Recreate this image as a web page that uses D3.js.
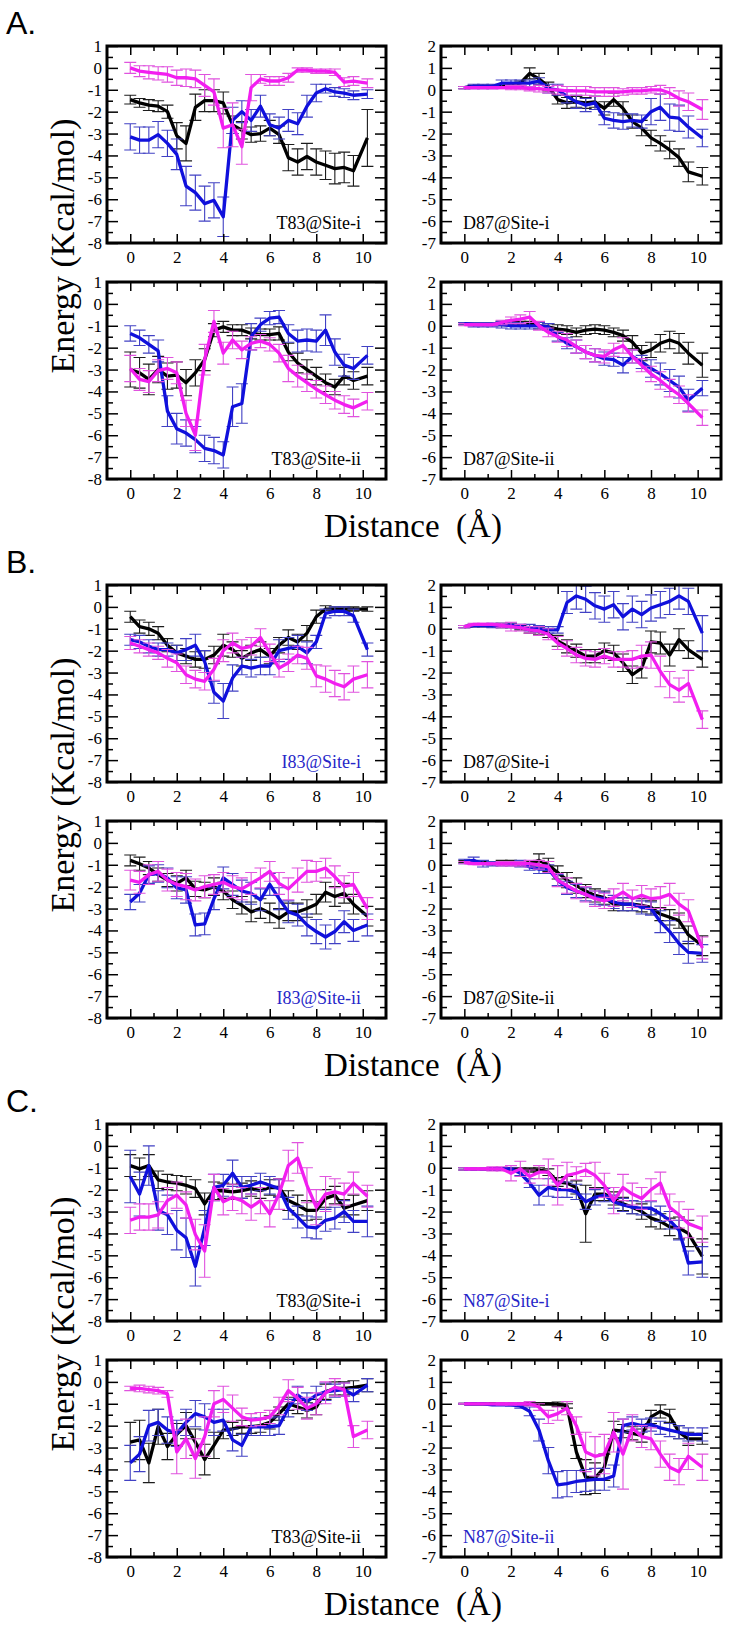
<!DOCTYPE html>
<html>
<head>
<meta charset="utf-8">
<script src="https://cdn.jsdelivr.net/npm/d3@7"></script>
<style>
body { margin: 0; background: #fff; }
svg { display: block; }
</style>
</head>
<body>
<svg id="fig" width="733" height="1626"></svg>
<script>
// distance (A) sampled along the pulling coordinate
const distance = [0, 0.4, 0.8, 1.2, 1.6, 2.0, 2.4, 2.8, 3.2, 3.6, 4.0, 4.4, 4.8, 5.2, 5.6, 6.0, 6.4, 6.8, 7.2, 7.6, 8.0, 8.4, 8.8, 9.2, 9.6, 10.2]
const xTicks = [0, 2, 4, 6, 8, 10]
const xMinor = [1, 3, 5, 7, 9]
const yTicksLeft = [-8, -7, -6, -5, -4, -3, -2, -1, 0, 1]
const yTicksRight = [-7, -6, -5, -4, -3, -2, -1, 0, 1, 2]

// A. T83@Site-i
const A_T83i_black = [-1.45,-1.6,-1.7,-1.75,-2.0,-3.1,-3.45,-1.8,-1.5,-1.5,-1.6,-2.6,-2.85,-3.05,-3.0,-2.75,-3.05,-4.1,-4.3,-4.05,-4.3,-4.45,-4.6,-4.55,-4.7,-3.2]
const A_T83i_blue = [-3.15,-3.3,-3.3,-3.05,-3.45,-3.95,-5.4,-5.7,-6.2,-6.05,-6.8,-2.4,-2.0,-2.4,-1.75,-2.6,-2.75,-2.4,-2.55,-1.75,-1.15,-0.95,-1.1,-1.15,-1.25,-1.2]
const A_T83i_mag = [0.0,-0.15,-0.2,-0.25,-0.3,-0.45,-0.45,-0.5,-0.8,-1.1,-2.75,-2.6,-3.6,-0.9,-0.5,-0.6,-0.6,-0.45,-0.1,-0.1,-0.15,-0.15,-0.2,-0.65,-0.6,-0.7]
const A_T83i_black_err = [0.2,0.2,0.25,0.25,0.3,0.6,0.8,0.6,0.5,0.5,0.5,0.4,0.4,0.35,0.35,0.35,0.4,0.6,0.6,0.6,0.6,0.65,0.7,0.7,0.7,1.3]
const A_T83i_blue_err = [0.6,0.6,0.6,0.6,0.6,0.7,0.9,0.8,0.8,0.8,0.9,0.6,0.5,0.5,0.5,0.5,0.5,0.5,0.5,0.5,0.4,0.2,0.2,0.2,0.2,0.2]
const A_T83i_mag_err = [0.25,0.25,0.3,0.3,0.35,0.35,0.4,0.4,0.5,0.6,0.9,1.0,0.8,0.6,0.2,0.2,0.2,0.2,0.1,0.1,0.1,0.1,0.15,0.2,0.2,0.2]

// A. T83@Site-ii
const A_T83ii_black = [-3.0,-3.15,-3.45,-3.0,-3.3,-3.25,-3.6,-3.15,-2.55,-1.2,-1.05,-1.2,-1.2,-1.35,-1.4,-1.4,-1.35,-2.2,-2.7,-3.0,-3.3,-3.6,-3.8,-3.3,-3.5,-3.3]
const A_T83ii_blue = [-1.35,-1.55,-1.85,-2.15,-4.9,-5.7,-5.9,-6.2,-6.6,-6.7,-6.9,-4.7,-4.55,-1.5,-0.95,-0.65,-0.6,-1.35,-1.7,-1.65,-1.7,-1.2,-2.2,-2.8,-2.95,-2.35]
const A_T83ii_mag = [-2.95,-3.45,-3.55,-3.05,-2.95,-3.15,-5.0,-6.0,-2.55,-0.8,-2.25,-1.65,-2.1,-1.8,-1.7,-1.85,-2.25,-2.95,-3.3,-3.6,-3.9,-4.15,-4.4,-4.6,-4.75,-4.45]
const A_T83ii_black_err = [0.8,0.7,0.7,0.6,0.6,0.6,0.6,0.6,0.5,0.3,0.25,0.25,0.25,0.25,0.25,0.25,0.3,0.4,0.45,0.45,0.4,0.4,0.35,0.4,0.4,0.4]
const A_T83ii_blue_err = [0.35,0.35,0.4,0.5,0.7,0.7,0.6,0.6,0.6,0.6,0.6,0.9,0.9,0.6,0.3,0.3,0.3,0.4,0.5,0.5,0.5,0.7,0.6,0.5,0.5,0.4]
const A_T83ii_mag_err = [0.6,0.5,0.5,0.5,0.5,0.5,0.6,0.7,0.7,0.5,0.5,0.4,0.4,0.3,0.3,0.3,0.4,0.6,0.5,0.4,0.4,0.4,0.4,0.4,0.4,0.4]

// A. D87@Site-i
const A_D87i_black = [0.1,0.15,0.15,0.15,0.15,0.2,0.3,0.75,0.5,0.15,-0.45,-0.6,-0.55,-0.6,-0.55,-0.85,-0.45,-0.85,-1.45,-1.75,-2.2,-2.45,-2.75,-3.1,-3.75,-3.95]
const A_D87i_blue = [0.1,0.15,0.15,0.15,0.3,0.3,0.3,0.3,0.4,0.05,0.0,-0.3,-0.55,-0.7,-0.6,-1.3,-1.4,-1.45,-1.4,-1.45,-1.0,-0.8,-1.25,-1.3,-1.7,-2.2]
const A_D87i_mag = [0.1,0.1,0.1,0.1,0.1,0.1,0.1,0.05,0.05,0.0,0.0,-0.05,-0.05,-0.05,-0.1,-0.1,-0.1,-0.1,-0.05,-0.05,0.0,0.0,-0.15,-0.4,-0.55,-0.9]
const A_D87i_black_err = [0.05,0.05,0.05,0.05,0.05,0.1,0.1,0.25,0.25,0.2,0.2,0.25,0.25,0.25,0.25,0.3,0.3,0.3,0.3,0.35,0.35,0.35,0.4,0.4,0.45,0.4]
const A_D87i_blue_err = [0.05,0.1,0.1,0.1,0.15,0.15,0.15,0.15,0.15,0.2,0.25,0.3,0.3,0.3,0.3,0.3,0.35,0.35,0.3,0.3,0.6,0.6,0.6,0.6,0.5,0.4]
const A_D87i_mag_err = [0.05,0.05,0.05,0.05,0.05,0.1,0.1,0.1,0.15,0.15,0.2,0.2,0.2,0.2,0.2,0.2,0.2,0.15,0.15,0.15,0.15,0.2,0.25,0.35,0.4,0.45]

// A. D87@Site-ii
const A_D87ii_black = [0.1,0.1,0.1,0.1,0.1,0.15,0.1,0.1,0.0,-0.05,-0.15,-0.2,-0.3,-0.2,-0.15,-0.2,-0.3,-0.45,-0.75,-1.25,-1.1,-0.8,-0.65,-0.8,-1.25,-1.8]
const A_D87ii_blue = [0.1,0.05,0.05,0.05,0.05,0.0,0.0,0.0,0.0,-0.05,-0.5,-0.8,-0.95,-1.2,-1.35,-1.5,-1.55,-1.8,-1.4,-1.65,-1.95,-2.2,-2.5,-2.8,-3.4,-2.85]
const A_D87ii_mag = [0.05,0.05,0.05,0.05,0.15,0.25,0.3,0.4,0.0,-0.3,-0.5,-0.65,-0.95,-1.2,-1.35,-1.4,-1.1,-0.9,-1.4,-1.8,-2.2,-2.5,-2.85,-3.15,-3.55,-4.2]
const A_D87ii_black_err = [0.05,0.05,0.05,0.05,0.1,0.1,0.1,0.1,0.15,0.15,0.2,0.2,0.2,0.2,0.2,0.2,0.2,0.25,0.3,0.35,0.35,0.4,0.4,0.45,0.5,0.55]
const A_D87ii_blue_err = [0.05,0.1,0.1,0.1,0.15,0.15,0.15,0.15,0.15,0.15,0.2,0.25,0.3,0.3,0.3,0.3,0.3,0.35,0.3,0.3,0.4,0.5,0.5,0.5,0.5,0.35]
const A_D87ii_mag_err = [0.05,0.05,0.05,0.05,0.1,0.15,0.2,0.25,0.2,0.2,0.25,0.3,0.3,0.3,0.3,0.3,0.3,0.35,0.3,0.3,0.35,0.4,0.4,0.4,0.4,0.35]

// B. I83@Site-i
const B_I83i_black = [-0.45,-0.9,-1.0,-1.2,-1.75,-2.1,-2.25,-2.4,-2.4,-2.2,-1.75,-1.95,-2.35,-2.1,-1.95,-2.25,-1.75,-1.4,-1.6,-1.2,-0.45,-0.1,-0.1,-0.1,-0.1,-0.1]
const B_I83i_blue = [-1.5,-1.6,-1.8,-1.95,-1.95,-2.1,-1.95,-1.75,-2.5,-3.9,-4.3,-3.25,-2.7,-2.8,-2.7,-2.7,-2.0,-1.9,-1.8,-2.1,-1.6,-0.3,-0.2,-0.2,-0.4,-1.95]
const B_I83i_mag = [-1.65,-1.8,-1.95,-2.1,-2.35,-2.55,-3.1,-3.3,-3.4,-2.85,-2.0,-1.65,-1.9,-1.8,-1.4,-2.1,-2.8,-2.55,-2.2,-2.35,-3.15,-3.3,-3.5,-3.65,-3.3,-3.1]
const B_I83i_black_err = [0.25,0.3,0.3,0.3,0.3,0.35,0.35,0.35,0.4,0.4,0.5,0.35,0.35,0.35,0.35,0.35,0.35,0.35,0.35,0.35,0.3,0.15,0.1,0.1,0.1,0.1]
const B_I83i_blue_err = [0.25,0.3,0.3,0.3,0.3,0.35,0.5,0.5,0.5,0.5,0.8,0.6,0.4,0.4,0.4,0.4,0.5,0.5,0.5,0.5,0.3,0.2,0.2,0.2,0.3,0.3]
const B_I83i_mag_err = [0.3,0.3,0.3,0.3,0.4,0.4,0.4,0.4,0.4,0.5,0.5,0.45,0.4,0.4,0.4,0.4,0.4,0.4,0.4,0.5,0.5,0.6,0.6,0.6,0.6,0.6]

// B. I83@Site-ii
const B_I83ii_black = [-0.8,-0.95,-1.15,-1.45,-1.7,-1.85,-1.6,-2.1,-2.15,-2.0,-2.2,-2.6,-2.85,-3.15,-3.0,-3.2,-3.45,-3.15,-3.15,-3.0,-2.8,-2.25,-2.45,-2.3,-2.8,-3.35]
const B_I83ii_blue = [-2.7,-2.3,-1.45,-1.4,-1.6,-2.05,-2.15,-3.75,-3.7,-2.55,-1.6,-1.9,-2.2,-2.3,-2.6,-1.9,-2.55,-3.15,-3.3,-3.75,-4.05,-4.3,-4.05,-3.6,-4.0,-3.75]
const B_I83ii_mag = [-1.7,-1.8,-1.45,-1.3,-1.7,-1.9,-2.0,-2.15,-2.0,-1.9,-1.8,-2.0,-2.1,-1.85,-1.6,-1.3,-1.85,-2.1,-1.7,-1.3,-1.3,-1.15,-1.55,-2.0,-1.9,-3.0]
const B_I83ii_black_err = [0.25,0.3,0.3,0.3,0.3,0.35,0.35,0.35,0.35,0.4,0.4,0.4,0.4,0.45,0.45,0.45,0.45,0.4,0.4,0.4,0.45,0.45,0.45,0.45,0.45,0.45]
const B_I83ii_blue_err = [0.35,0.4,0.4,0.4,0.45,0.5,0.6,0.5,0.5,0.5,0.5,0.5,0.5,0.5,0.5,0.5,0.5,0.5,0.5,0.5,0.55,0.55,0.55,0.5,0.5,0.5]
const B_I83ii_mag_err = [0.45,0.5,0.45,0.45,0.5,0.55,0.6,0.5,0.5,0.45,0.45,0.5,0.5,0.5,0.45,0.45,0.5,0.5,0.55,0.5,0.45,0.45,0.5,0.5,0.55,0.5]

// B. D87@Site-i
const B_D87i_black = [0.1,0.15,0.15,0.15,0.15,0.15,0.05,-0.05,-0.1,-0.2,-0.55,-0.8,-1.0,-1.25,-1.25,-1.0,-1.1,-1.55,-2.1,-1.8,-0.6,-0.65,-1.2,-0.5,-0.95,-1.4]
const B_D87i_blue = [0.1,0.15,0.15,0.15,0.15,0.15,0.1,0.05,0.0,-0.05,-0.05,1.2,1.5,1.35,1.05,0.9,1.1,0.55,0.9,0.65,0.95,1.1,1.25,1.5,1.25,-0.2]
const B_D87i_mag = [0.1,0.2,0.2,0.2,0.15,0.1,0.05,-0.05,-0.1,-0.25,-0.65,-0.9,-1.2,-1.35,-1.4,-1.25,-1.4,-1.4,-1.4,-1.25,-1.2,-1.95,-2.55,-2.8,-2.5,-4.15]
const B_D87i_black_err = [0.05,0.05,0.05,0.05,0.1,0.1,0.1,0.15,0.15,0.2,0.25,0.3,0.3,0.3,0.3,0.35,0.35,0.4,0.4,0.45,0.5,0.5,0.5,0.5,0.4,0.35]
const B_D87i_blue_err = [0.05,0.05,0.05,0.1,0.1,0.1,0.1,0.15,0.15,0.15,0.15,0.5,0.6,0.6,0.6,0.6,0.6,0.6,0.6,0.6,0.6,0.6,0.6,0.6,0.6,0.8]
const B_D87i_mag_err = [0.05,0.05,0.05,0.05,0.1,0.2,0.15,0.15,0.2,0.25,0.3,0.35,0.35,0.35,0.35,0.35,0.35,0.35,0.4,0.5,0.6,0.7,0.6,0.55,0.6,0.4]

// B. D87@Site-ii
const B_D87ii_black = [0.15,0.1,0.1,0.1,0.1,0.1,0.05,0.05,0.2,0.0,-0.35,-0.7,-0.95,-1.2,-1.4,-1.5,-1.8,-1.8,-1.8,-1.85,-1.95,-2.25,-2.4,-2.55,-3.2,-3.7]
const B_D87ii_blue = [0.15,0.2,0.05,0.05,0.05,0.05,0.05,-0.1,-0.2,-0.2,-0.7,-1.05,-1.2,-1.35,-1.5,-1.55,-1.7,-1.8,-1.8,-1.95,-2.0,-2.6,-3.05,-3.6,-4.0,-4.05]
const B_D87ii_mag = [0.1,0.05,0.05,0.05,0.05,0.05,0.05,0.05,0.0,-0.1,-0.7,-0.95,-1.2,-1.35,-1.55,-1.65,-1.5,-1.25,-1.55,-1.4,-1.55,-1.5,-1.35,-1.8,-2.1,-3.8]
const B_D87ii_black_err = [0.05,0.05,0.05,0.05,0.1,0.1,0.1,0.1,0.3,0.3,0.3,0.35,0.35,0.3,0.3,0.3,0.3,0.3,0.3,0.3,0.3,0.3,0.35,0.35,0.4,0.45]
const B_D87ii_blue_err = [0.1,0.15,0.15,0.1,0.1,0.1,0.15,0.15,0.2,0.2,0.25,0.3,0.3,0.3,0.3,0.3,0.3,0.3,0.3,0.3,0.3,0.5,0.5,0.5,0.5,0.4]
const B_D87ii_mag_err = [0.05,0.05,0.05,0.05,0.1,0.1,0.1,0.15,0.2,0.25,0.3,0.35,0.35,0.35,0.35,0.35,0.4,0.4,0.4,0.45,0.45,0.5,0.5,0.5,0.5,0.5]

// C. T83@Site-i
const C_T83i_black = [-0.9,-1.05,-0.9,-1.55,-1.65,-1.7,-1.8,-1.95,-2.65,-2.05,-2.05,-2.1,-2.05,-1.95,-2.05,-1.9,-1.9,-2.5,-2.7,-2.95,-2.95,-2.4,-2.25,-2.85,-2.7,-2.5]
const C_T83i_blue = [-1.4,-2.2,-0.9,-2.95,-3.15,-3.85,-4.2,-5.5,-3.75,-1.9,-1.8,-1.25,-1.9,-1.8,-1.65,-1.8,-1.95,-2.85,-3.25,-3.7,-3.75,-3.4,-3.3,-3.0,-3.45,-3.45]
const C_T83i_mag = [-3.4,-3.25,-3.25,-3.15,-2.5,-2.25,-2.7,-4.05,-4.8,-1.9,-2.55,-2.35,-2.5,-2.8,-2.5,-3.1,-2.2,-0.9,-0.55,-1.8,-2.8,-2.2,-2.1,-2.2,-1.7,-2.3]
const C_T83i_black_err = [0.5,0.5,0.5,0.4,0.35,0.35,0.4,0.4,0.5,0.4,0.35,0.35,0.35,0.35,0.35,0.35,0.4,0.45,0.45,0.45,0.4,0.4,0.4,0.4,0.45,0.45]
const C_T83i_blue_err = [1.2,1.0,0.9,0.9,0.9,0.9,0.9,0.9,0.8,0.6,0.5,0.6,0.5,0.4,0.4,0.4,0.4,0.5,0.5,0.5,0.5,0.5,0.5,0.5,0.5,0.7]
const C_T83i_mag_err = [0.6,0.6,0.6,0.6,0.6,0.6,0.6,0.7,1.2,0.6,0.6,0.6,0.6,0.6,0.6,0.6,0.7,0.7,0.7,0.8,0.8,0.8,0.6,0.5,0.5,0.5]

// C. T83@Site-ii
const C_T83ii_black = [-2.75,-2.65,-3.7,-2.05,-2.95,-2.4,-2.0,-2.75,-3.55,-2.9,-2.2,-2.15,-2.05,-2.05,-2.0,-1.85,-1.45,-1.0,-1.15,-1.3,-1.15,-0.45,-0.3,-0.3,-0.25,-0.15]
const C_T83ii_blue = [-3.7,-3.3,-2.0,-1.85,-2.2,-2.35,-1.85,-1.45,-1.6,-1.85,-1.75,-2.65,-2.9,-2.05,-2.05,-2.05,-2.0,-1.2,-0.6,-0.9,-0.6,-0.45,-0.4,-0.35,-0.6,-0.15]
const C_T83ii_mag = [-0.3,-0.3,-0.35,-0.4,-0.55,-3.2,-2.6,-3.5,-2.5,-1.0,-0.8,-1.2,-1.6,-1.75,-1.7,-1.6,-1.1,-0.4,-0.75,-1.2,-1.0,-0.5,-0.25,-0.35,-2.5,-2.2]
const C_T83ii_black_err = [0.9,0.9,0.9,0.8,0.6,0.5,0.6,0.6,0.7,0.6,0.4,0.3,0.3,0.3,0.3,0.3,0.3,0.3,0.3,0.35,0.35,0.35,0.3,0.3,0.3,0.3]
const C_T83ii_blue_err = [0.8,0.8,0.7,0.6,0.6,0.6,0.6,0.6,0.6,0.6,0.5,0.5,0.5,0.4,0.4,0.4,0.4,0.4,0.4,0.4,0.4,0.4,0.3,0.3,0.3,0.3]
const C_T83ii_mag_err = [0.1,0.15,0.15,0.15,0.15,1.0,0.9,0.9,0.9,0.6,0.6,0.6,0.4,0.3,0.3,0.3,0.4,0.5,0.5,0.5,0.5,0.5,0.4,0.3,0.5,0.4]

// C. N87@Site-i
const C_N87i_black = [-0.05,-0.05,-0.05,-0.05,-0.05,-0.05,-0.1,-0.1,-0.1,-0.2,-0.65,-0.7,-0.9,-2.1,-1.2,-1.2,-1.4,-1.65,-1.8,-2.0,-2.3,-2.45,-2.7,-2.75,-3.0,-4.05]
const C_N87i_blue = [-0.05,-0.05,-0.05,-0.05,-0.05,-0.05,-0.25,-0.7,-1.25,-0.9,-1.0,-1.0,-1.1,-1.55,-1.35,-1.25,-1.55,-1.7,-1.8,-1.85,-1.85,-2.1,-2.4,-2.85,-4.35,-4.3]
const C_N87i_mag = [-0.05,-0.05,-0.05,-0.05,-0.05,-0.25,-0.05,-0.4,-0.2,-0.2,-0.8,-0.35,-0.25,-0.1,-0.35,-0.8,-1.5,-0.9,-1.2,-1.4,-1.0,-0.7,-1.8,-2.15,-2.55,-2.8]
const C_N87i_black_err = [0.05,0.05,0.05,0.05,0.05,0.05,0.1,0.1,0.1,0.15,0.2,0.3,0.3,1.3,0.3,0.3,0.3,0.3,0.3,0.35,0.4,0.35,0.4,0.5,0.6,0.8]
const C_N87i_blue_err = [0.05,0.05,0.05,0.05,0.05,0.05,0.1,0.2,0.45,0.4,0.35,0.35,0.35,0.35,0.35,0.3,0.3,0.3,0.3,0.3,0.3,0.35,0.4,0.45,0.55,0.7]
const C_N87i_mag_err = [0.05,0.05,0.05,0.1,0.1,0.35,0.35,0.3,0.3,0.6,0.9,0.6,0.3,0.3,0.6,0.55,0.6,0.6,0.5,0.5,0.5,0.5,0.6,0.6,0.65,0.6]

// C. N87@Site-ii
const C_N87ii_black = [0,0,0,0,0,0,0,0,0,0,-0.02,-0.1,-2.2,-3.35,-3.4,-2.9,-1.2,-1.25,-1.35,-1.45,-0.6,-0.35,-0.55,-1.3,-1.6,-1.6]
const C_N87ii_blue = [0,0,0,-0.05,-0.05,-0.05,-0.1,-0.35,-1.2,-2.6,-3.7,-3.65,-3.55,-3.5,-3.45,-3.45,-3.3,-1.0,-0.9,-1.0,-0.95,-1.1,-1.2,-1.3,-1.4,-1.4]
const C_N87ii_mag = [0,0,0,0,0,0,0,0,-0.15,-0.6,-0.45,-0.2,-1.0,-2.2,-2.4,-2.3,-1.3,-2.3,-1.1,-1.5,-1.6,-2.3,-2.9,-3.1,-2.4,-2.9]
const C_N87ii_black_err = [0.02,0.02,0.02,0.02,0.02,0.02,0.05,0.05,0.05,0.05,0.1,0.1,0.3,0.8,0.7,0.6,0.4,0.3,0.3,0.3,0.3,0.3,0.3,0.3,0.3,0.25]
const C_N87ii_blue_err = [0.02,0.02,0.02,0.02,0.02,0.05,0.1,0.2,0.5,0.6,0.6,0.6,0.5,0.5,0.5,0.5,0.5,0.3,0.3,0.3,0.3,0.3,0.3,0.3,0.3,0.3]
const C_N87ii_mag_err = [0.02,0.02,0.02,0.02,0.05,0.05,0.05,0.1,0.15,0.3,0.3,0.3,0.4,0.9,0.9,0.9,0.9,1.6,0.6,0.5,0.5,0.6,0.6,0.6,0.6,0.6]

// colours
const BLACK = { line: "#000000", err: "#1c1c1c" }
const BLUE = { line: "#1010dc", err: "#4141c4" }
const MAGENTA = { line: "#f21ef0", err: "#e053de" }
const serif = "'Liberation Serif', 'Times New Roman', Times, serif"
const sans = "'Liberation Sans', Arial, Helvetica, sans-serif"

const svg = d3.select("#fig")

// layout
const sectionTops = [46, 585, 1124]
const panelH = 197
const panelGap = 39
const cols = [[107, 386], [441, 721]]

function series(vals, errs, col) {
    return { vals: vals, errs: errs, col: col }
}

const panels = [
    { sec: 0, row: 0, col: 0, yTicks: yTicksLeft, label: "T83@Site-i", labelColor: "#000",
      series: [series(A_T83i_black, A_T83i_black_err, BLACK), series(A_T83i_blue, A_T83i_blue_err, BLUE), series(A_T83i_mag, A_T83i_mag_err, MAGENTA)] },
    { sec: 0, row: 1, col: 0, yTicks: yTicksLeft, label: "T83@Site-ii", labelColor: "#000",
      series: [series(A_T83ii_black, A_T83ii_black_err, BLACK), series(A_T83ii_blue, A_T83ii_blue_err, BLUE), series(A_T83ii_mag, A_T83ii_mag_err, MAGENTA)] },
    { sec: 0, row: 0, col: 1, yTicks: yTicksRight, label: "D87@Site-i", labelColor: "#000",
      series: [series(A_D87i_black, A_D87i_black_err, BLACK), series(A_D87i_blue, A_D87i_blue_err, BLUE), series(A_D87i_mag, A_D87i_mag_err, MAGENTA)] },
    { sec: 0, row: 1, col: 1, yTicks: yTicksRight, label: "D87@Site-ii", labelColor: "#000",
      series: [series(A_D87ii_black, A_D87ii_black_err, BLACK), series(A_D87ii_blue, A_D87ii_blue_err, BLUE), series(A_D87ii_mag, A_D87ii_mag_err, MAGENTA)] },
    { sec: 1, row: 0, col: 0, yTicks: yTicksLeft, label: "I83@Site-i", labelColor: "#2626c8",
      series: [series(B_I83i_black, B_I83i_black_err, BLACK), series(B_I83i_blue, B_I83i_blue_err, BLUE), series(B_I83i_mag, B_I83i_mag_err, MAGENTA)] },
    { sec: 1, row: 1, col: 0, yTicks: yTicksLeft, label: "I83@Site-ii", labelColor: "#2626c8",
      series: [series(B_I83ii_black, B_I83ii_black_err, BLACK), series(B_I83ii_blue, B_I83ii_blue_err, BLUE), series(B_I83ii_mag, B_I83ii_mag_err, MAGENTA)] },
    { sec: 1, row: 0, col: 1, yTicks: yTicksRight, label: "D87@Site-i", labelColor: "#000",
      series: [series(B_D87i_black, B_D87i_black_err, BLACK), series(B_D87i_blue, B_D87i_blue_err, BLUE), series(B_D87i_mag, B_D87i_mag_err, MAGENTA)] },
    { sec: 1, row: 1, col: 1, yTicks: yTicksRight, label: "D87@Site-ii", labelColor: "#000",
      series: [series(B_D87ii_black, B_D87ii_black_err, BLACK), series(B_D87ii_blue, B_D87ii_blue_err, BLUE), series(B_D87ii_mag, B_D87ii_mag_err, MAGENTA)] },
    { sec: 2, row: 0, col: 0, yTicks: yTicksLeft, label: "T83@Site-i", labelColor: "#000",
      series: [series(C_T83i_black, C_T83i_black_err, BLACK), series(C_T83i_blue, C_T83i_blue_err, BLUE), series(C_T83i_mag, C_T83i_mag_err, MAGENTA)] },
    { sec: 2, row: 1, col: 0, yTicks: yTicksLeft, label: "T83@Site-ii", labelColor: "#000",
      series: [series(C_T83ii_black, C_T83ii_black_err, BLACK), series(C_T83ii_blue, C_T83ii_blue_err, BLUE), series(C_T83ii_mag, C_T83ii_mag_err, MAGENTA)] },
    { sec: 2, row: 0, col: 1, yTicks: yTicksRight, label: "N87@Site-i", labelColor: "#2626c8",
      series: [series(C_N87i_black, C_N87i_black_err, BLACK), series(C_N87i_blue, C_N87i_blue_err, BLUE), series(C_N87i_mag, C_N87i_mag_err, MAGENTA)] },
    { sec: 2, row: 1, col: 1, yTicks: yTicksRight, label: "N87@Site-ii", labelColor: "#2626c8",
      series: [series(C_N87ii_black, C_N87ii_black_err, BLACK), series(C_N87ii_blue, C_N87ii_blue_err, BLUE), series(C_N87ii_mag, C_N87ii_mag_err, MAGENTA)] }
]

function styleAxis(g) {
    g.select(".domain").remove()
    g.selectAll(".tick line").attr("stroke", "#000").attr("stroke-width", 1.5)
    g.selectAll("text").attr("font-family", serif).attr("font-size", 17).attr("fill", "#000")
}

panels.forEach(function (p, idx) {
    const left = cols[p.col][0]
    const right = cols[p.col][1]
    const top = sectionTops[p.sec] + p.row * (panelH + panelGap)
    const bottom = top + panelH
    const yMin = p.yTicks[0]
    const yMax = p.yTicks[p.yTicks.length - 1]
    const yMinor = p.yTicks.slice(0, -1).map(v => v + 0.5)

    const x = d3.scaleLinear().domain([-1, 11]).range([left, right])
    const y = d3.scaleLinear().domain([yMin, yMax]).range([bottom, top])

    const g = svg.append("g")
    g.append("clipPath").attr("id", "clip" + idx)
        .append("rect").attr("x", left).attr("y", top).attr("width", right - left).attr("height", bottom - top)
    const plot = g.append("g").attr("clip-path", "url(#clip" + idx + ")")

    const line = d3.line().x(d => x(d[0])).y(d => y(d[1]))
    const cap = 6

    p.series.forEach(function (s) {
        const pts = d3.zip(distance, s.vals, s.errs)
        plot.append("g")
            .selectAll("path")
            .data(pts)
            .join("path")
            .attr("d", function (d) {
                const cx = x(d[0]), hi = y(d[1] + d[2]), lo = y(d[1] - d[2])
                return "M" + (cx - cap) + "," + hi + "H" + (cx + cap) +
                    "M" + cx + "," + hi + "V" + lo +
                    "M" + (cx - cap) + "," + lo + "H" + (cx + cap)
            })
            .attr("fill", "none")
            .attr("stroke", s.col.err)
            .attr("stroke-width", 1.1)
        plot.append("path")
            .datum(pts)
            .attr("d", line)
            .attr("fill", "none")
            .attr("stroke", s.col.line)
            .attr("stroke-width", 3.3)
            .attr("stroke-linejoin", "round")
    })

    // ticks point inward on all four sides
    g.append("g").attr("transform", "translate(0," + bottom + ")")
        .call(d3.axisBottom(x).tickValues(xTicks).tickSizeInner(-9).tickSizeOuter(0).tickPadding(8).tickFormat(d => String(d)))
        .call(styleAxis)
    g.append("g").attr("transform", "translate(0," + bottom + ")")
        .call(d3.axisBottom(x).tickValues(xMinor).tickSize(-5).tickFormat(""))
        .call(styleAxis)
    g.append("g").attr("transform", "translate(0," + top + ")")
        .call(d3.axisTop(x).tickValues(xTicks).tickSize(-9).tickFormat(""))
        .call(styleAxis)
    g.append("g").attr("transform", "translate(0," + top + ")")
        .call(d3.axisTop(x).tickValues(xMinor).tickSize(-5).tickFormat(""))
        .call(styleAxis)
    g.append("g").attr("transform", "translate(" + left + ",0)")
        .call(d3.axisLeft(y).tickValues(p.yTicks).tickSizeInner(-11).tickSizeOuter(0).tickPadding(5).tickFormat(d => String(d)))
        .call(styleAxis)
    g.append("g").attr("transform", "translate(" + left + ",0)")
        .call(d3.axisLeft(y).tickValues(yMinor).tickSize(-6).tickFormat(""))
        .call(styleAxis)
    g.append("g").attr("transform", "translate(" + right + ",0)")
        .call(d3.axisRight(y).tickValues(p.yTicks).tickSize(-11).tickFormat(""))
        .call(styleAxis)
    g.append("g").attr("transform", "translate(" + right + ",0)")
        .call(d3.axisRight(y).tickValues(yMinor).tickSize(-6).tickFormat(""))
        .call(styleAxis)

    g.append("rect")
        .attr("x", left).attr("y", top)
        .attr("width", right - left).attr("height", bottom - top)
        .attr("fill", "none").attr("stroke", "#000").attr("stroke-width", 3)

    const lab = g.append("text")
        .attr("y", bottom - 14)
        .attr("font-family", serif)
        .attr("font-size", 18)
        .attr("fill", p.labelColor)
        .text(p.label)
    if (p.col == 0) {
        lab.attr("x", right - 25).attr("text-anchor", "end")
    } else {
        lab.attr("x", left + 22).attr("text-anchor", "start")
    }
})

// section letters and shared axis titles
const letters = ["A.", "B.", "C."]
sectionTops.forEach(function (s, i) {
    svg.append("text")
        .attr("x", 6).attr("y", s - 12)
        .attr("font-family", sans).attr("font-size", 32)
        .text(letters[i])
    svg.append("text")
        .attr("x", 413).attr("y", s + 491)
        .attr("text-anchor", "middle")
        .attr("font-family", serif).attr("font-size", 33)
        .style("white-space", "pre")
        .text("Distance  (\u00C5)")
    svg.append("text")
        .attr("transform", "translate(74," + (s + 200) + ") rotate(-90)")
        .attr("text-anchor", "middle")
        .attr("font-family", serif).attr("font-size", 34)
        .text("Energy (Kcal/mol)")
})
</script>
</body>
</html>
